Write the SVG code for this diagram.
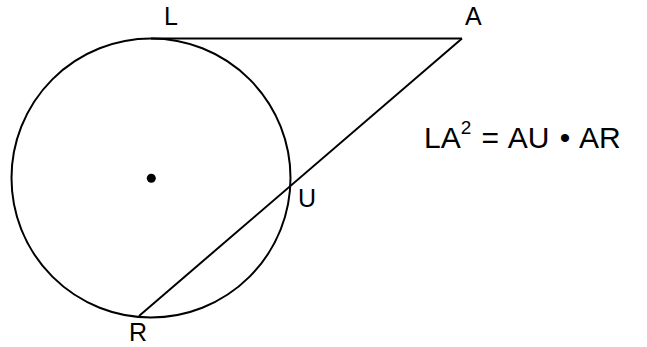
<svg xmlns="http://www.w3.org/2000/svg" width="647" height="347" viewBox="0 0 647 347">
<style>
.ln{fill:none;stroke:#000;stroke-width:2}
.lb{font-family:"Liberation Sans",Arial,sans-serif;font-size:25px;fill:#000}
.eq{font-family:"Liberation Sans",Arial,sans-serif;font-size:30px;fill:#000}
</style>
<rect width="647" height="347" fill="#fff"/>
<g id="circle">
<circle class="ln" cx="151" cy="178" r="139.5"/>
<circle cx="151.3" cy="178.3" r="4.5" fill="#000"/>
</g>
<g id="connectors">
<line class="ln" x1="151" y1="38.5" x2="462" y2="38.5"/>
<line class="ln" x1="462" y1="38.5" x2="139" y2="316"/>
</g>
<g id="labels">
<text class="lb" x="164" y="25">L</text>
<text class="lb" x="465" y="25">A</text>
<text class="lb" x="298" y="207">U</text>
<text class="lb" x="129" y="341">R</text>
</g>
<g id="equation">
<text class="eq" x="424" y="148" word-spacing="2">LA<tspan dy="-14" font-size="19">2</tspan><tspan dy="14"> = AU • AR</tspan></text>
</g>
</svg>
